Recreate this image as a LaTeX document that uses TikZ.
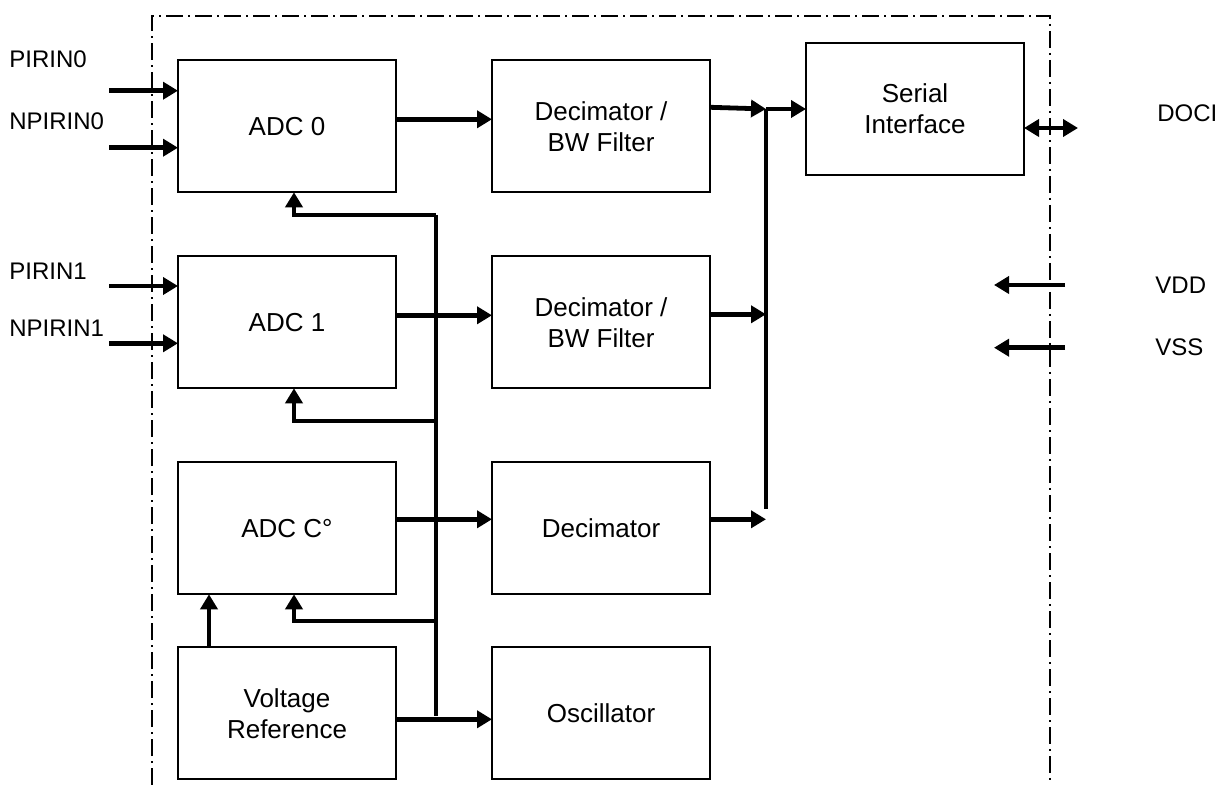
\documentclass[tikz,border=0pt]{standalone}
\usepackage{fontspec}
\setmainfont{Liberation Sans}
\usetikzlibrary{arrows.meta,positioning}

\begin{document}
\begin{tikzpicture}[x=0.5pt,y=-0.5pt,
  blk/.style={draw,line width=1.1pt,minimum width=109pt,minimum height=66pt,inner sep=0pt,outer sep=0pt,align=center,font=\fontsize{13}{15.5}\selectfont},
  sig/.style={line width=2.4pt,-{Triangle[length=7.5pt,width=8.5pt]}},
  both/.style={line width=2.4pt,{Triangle[length=7.5pt,width=8.5pt]}-{Triangle[length=7.5pt,width=8.5pt]}},
  bus/.style={line width=2.4pt},
  pin/.style={anchor=west,inner sep=0pt,font=\fontsize{12}{14}\selectfont}]
\useasboundingbox (0,0) rectangle (1224,785);
\draw[line width=0.6pt,dash pattern=on 8.5pt off 2.5pt on 1pt off 2.5pt] (152,785) |- (1050,16) -- (1050,785);
\node[blk] (adc0) at (287,126.3) {ADC 0};
\node[blk,below=32pt of adc0] (adc1) {ADC 1};
\node[blk,below=37pt of adc1] (adcc) {ADC C°};
\node[blk,below=26.5pt of adcc] (vref) {Voltage\\Reference};
\node[blk,right=48pt of adc0] (dec0) {Decimator /\\BW Filter};
\node[blk,right=48pt of adc1] (dec1) {Decimator /\\BW Filter};
\node[blk,right=48pt of adcc] (dec2) {Decimator};
\node[blk,right=48pt of vref] (osc) {Oscillator};
\node[blk,right=48pt of dec0,yshift=8.7pt] (ser) {Serial\\Interface};
\node[pin] (lp0) at (9,59) {PIRIN0};
\node[pin] (ln0) at (9,121.7) {NPIRIN0};
\node[pin] (lp1) at (9,271.7) {PIRIN1};
\node[pin] (ln1) at (9,328.3) {NPIRIN1};
\node[pin] (ldoci) at (1157,113) {DOCI};
\node[pin] (lvdd) at (1155,285) {VDD};
\node[pin] (lvss) at (1155,347.7) {VSS};
\coordinate (p0) at (109,90.7);
\coordinate (n0) at (109,147.7);
\coordinate (p1) at (109,286);
\coordinate (n1) at (109,343.3);
\draw[sig] (p0) -- (p0 -| adc0.west);
\draw[sig] (n0) -- (n0 -| adc0.west);
\draw[sig] (p1) -- (p1 -| adc1.west);
\draw[sig] (n1) -- (n1 -| adc1.west);
\coordinate (a0) at ([yshift=3.5pt]adc0.east);
\coordinate (a1) at ([yshift=3.5pt]adc1.east);
\coordinate (a2) at ([yshift=4.5pt]adcc.east);
\coordinate (vo) at ([yshift=-3pt]vref.east);
\draw[sig] (a0) -- (a0 -| dec0.west);
\draw[sig] (a1) -- (a1 -| dec1.west);
\draw[sig] (a2) -- (a2 -| dec2.west);
\draw[sig] (vo) -- (vo -| osc.west);
\coordinate (ck0) at (436,215);
\coordinate (ck1) at (436,421);
\coordinate (ck2) at (436,621);
\coordinate (ck3) at (436,716);
\draw[bus] (ck0) -- (ck3);
\draw[sig] (ck0) -| ([xshift=3.5pt]adc0.south);
\draw[sig] (ck1) -| ([xshift=3.5pt]adc1.south);
\draw[sig] (ck2) -| ([xshift=3.5pt]adcc.south);
\draw[sig] ([xshift=-39pt]vref.north) -- ([xshift=-39pt]adcc.south);
\coordinate (jn) at (766,109);
\coordinate (jb) at (766,509);
\coordinate (d0) at ([yshift=9.5pt]dec0.east);
\coordinate (d1) at ([yshift=4pt]dec1.east);
\coordinate (d2) at ([yshift=4.5pt]dec2.east);
\draw[bus] (jn) -- (jb);
\draw[sig] (d0) -- (jn);
\draw[sig] (d1) -- (d1 -| jn);
\draw[sig] (d2) -- (d2 -| jn);
\draw[sig] (jn) -- (jn -| ser.west);
\coordinate (dq) at (1078,128);
\draw[both] (dq -| ser.east) -- (dq);
\coordinate (vdd) at (1065,285);
\coordinate (vddin) at (994,285);
\coordinate (vss) at (1065,347.7);
\coordinate (vssin) at (994,347.7);
\draw[sig] (vdd) -- (vddin);
\draw[sig] (vss) -- (vssin);
\end{tikzpicture}
\end{document}
